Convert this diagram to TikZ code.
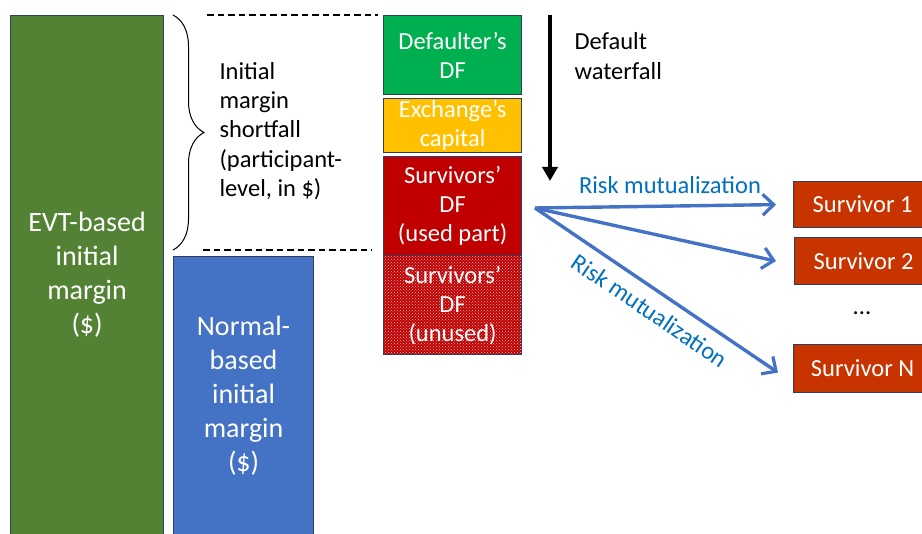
\documentclass[tikz,border=0pt]{standalone}
\usepackage{fontspec}
\setmainfont{Carlito}
\usetikzlibrary{arrows.meta,patterns,decorations.pathreplacing}

\definecolor{evtgreen}{HTML}{548235}
\definecolor{normblue}{HTML}{4472C4}
\definecolor{dfgreen}{HTML}{00B050}
\definecolor{capyellow}{HTML}{FFC000}
\definecolor{dfred}{HTML}{C00000}
\definecolor{survred}{RGB}{200,52,0}
\definecolor{edgenavy}{HTML}{2F3F62}
\definecolor{mutblue}{HTML}{0070C0}

\begin{document}
\begin{tikzpicture}[x=1pt,y=-1pt,
  bar/.style={draw=edgenavy,line width=1.2pt,anchor=north west,inner sep=0pt,
    align=center,text=white,font=\fontsize{28}{34}\selectfont},
  pile/.style={bar,font=\fontsize{24.5}{29}\selectfont,minimum width=138pt},
  surv/.style={pile,fill=survred},
  lbl/.style={align=left,anchor=west,font=\fontsize{24.5}{29.3}\selectfont},
  mut/.style={draw=normblue,line width=3.4pt,-{Straight Barb[length=11pt,width=21pt,line width=3.2pt]}},
  mutlbl/.style={text=mutblue,font=\fontsize{24.5}{29}\selectfont},
  shade/.style={dash pattern=on 6.5pt off 4pt,line width=1.3pt}]
  \useasboundingbox (0,0) rectangle (922,534);
  % margins
  \node[bar,fill=evtgreen,minimum width=153pt,minimum height=519pt] (evt) at (10,15) {EVT-based\\initial\\margin\\(\$)};
  \node[bar,fill=normblue,minimum width=140pt,minimum height=278pt] (normal) at (173,256) {Normal-\\based\\initial\\margin\\(\$)};
  % default waterfall layers
  \node[pile,fill=dfgreen,minimum height=79pt] (dflt) at (383,15) {Defaulter’s\\DF};
  \node[pile,fill=capyellow,minimum height=54pt] (exch) at (383,98) {Exchange’s\\capital};
  \node[pile,fill=dfred,minimum height=99pt] (used) at (383,156) {Survivors’\\DF\\(used part)};
  \node[pile,preaction={fill=dfred},pattern=crosshatch dots,pattern color=white!75!dfred,minimum height=99pt] (unused) at (383,255) {Survivors’\\DF\\(unused)};
  % shortfall brace and levels
  \draw[line width=1pt,decorate,decoration={brace,amplitude=31pt}] (173,15) -- (173,250);
  \node[lbl] (shortfall) at (216,131) {Initial\\margin\\shortfall\\(participant-\\level, in \$)};
  \coordinate (top) at (207,15);
  \coordinate (bot) at (203,250);
  \draw[shade] (top) -- ([xshift=-5pt]dflt.west |- top);
  \draw[shade] (bot) -- ([xshift=-11pt]used.west |- bot);
  % waterfall arrow
  \coordinate (wtop) at (550,15);
  \coordinate (wbot) at (550,181);
  \draw[line width=3.6pt,-{Triangle[length=14pt,width=15pt]}] (wtop) -- (wbot);
  \node[lbl] (waterfall) at (571,56) {Default\\waterfall};
  % survivors
  \node[surv,minimum height=46pt] (s1) at (793,181) {Survivor 1};
  \node[surv,minimum height=47pt] (s2) at (794,237) {Survivor 2};
  \node[font=\fontsize{24.5}{29}\selectfont] (dots) at (862,313) {...};
  \node[surv,minimum height=48pt] (sn) at (793,344) {Survivor N};
  % mutualization
  \coordinate (fork) at (535,208);
  \draw[mut] (fork) -- ([xshift=-17pt]s1.west) node[pos=0.56,above=7pt,mutlbl] (mut1) {Risk mutualization};
  \draw[mut] (fork) -- ([xshift=-18pt]s2.west);
  \draw[mut] (fork) -- ([xshift=-15pt,yshift=-4pt]sn.west) node[pos=0.52,below=7pt,sloped,mutlbl] (mut2) {Risk mutualization};
\end{tikzpicture}
\end{document}
